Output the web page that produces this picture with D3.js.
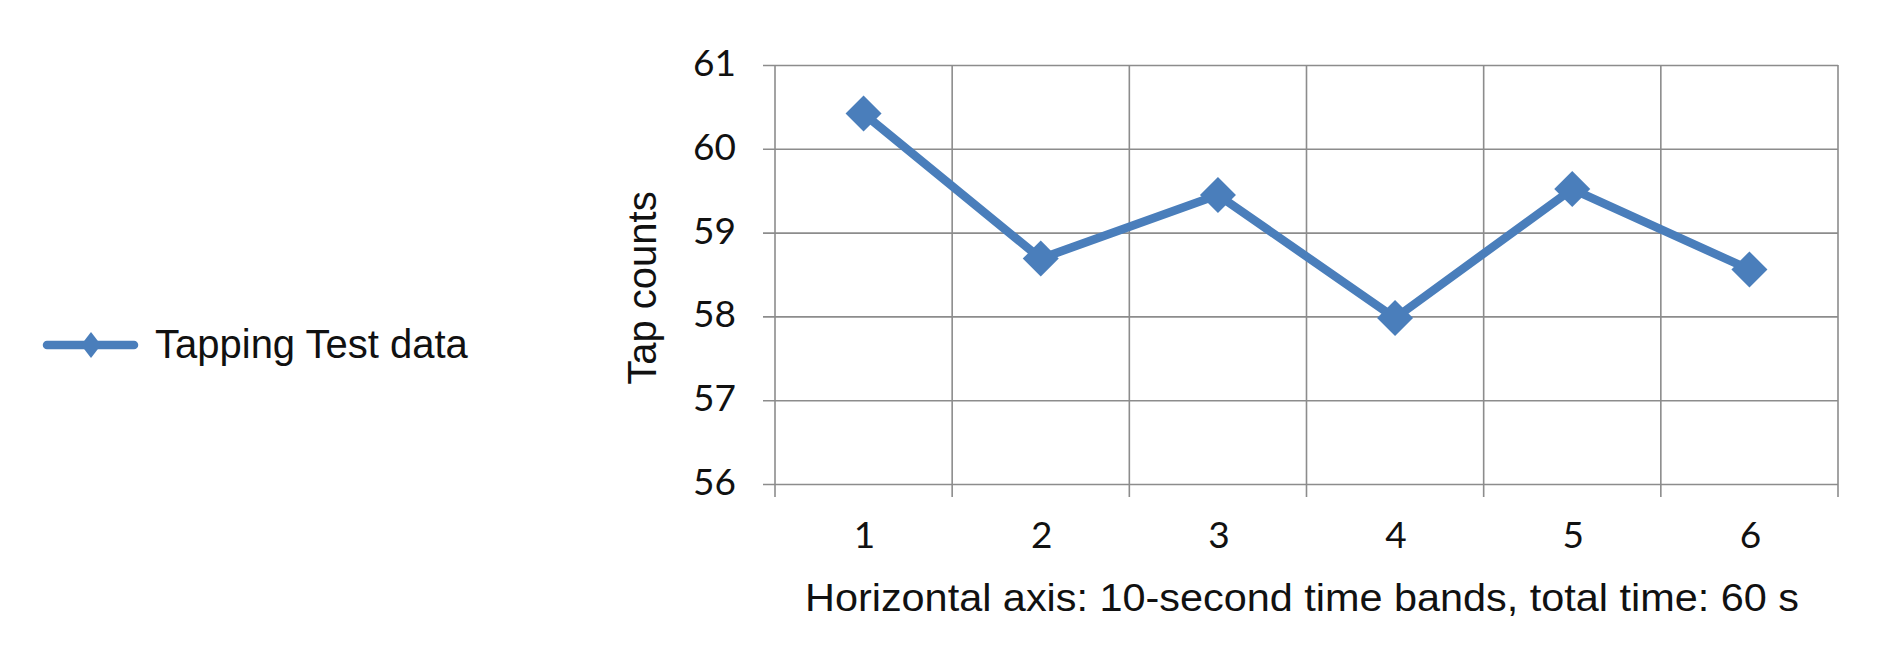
<!DOCTYPE html>
<html>
<head>
<meta charset="utf-8">
<script src="https://cdn.jsdelivr.net/npm/d3@7/dist/d3.min.js"></script>
<style>
  html, body { margin: 0; padding: 0; background: #ffffff; }
  svg { display: block; }
</style>
</head>
<body>
<svg id="chart" width="1891" height="656"></svg>
<script>
// ---- data ----
const categories = ["1", "2", "3", "4", "5", "6"];
const tapCounts = [60.42, 58.69, 59.45, 57.98, 59.52, 58.56];
const yTicks = [56, 57, 58, 59, 60, 61];
const seriesName = "Tapping Test data";
const yTitle = "Tap counts";
const xTitle = "Horizontal axis: 10-second time bands, total time: 60 s";

// ---- layout ----
const svg = d3.select("#chart");
const plotL = 775, plotR = 1838, plotT = 65, plotB = 484;
const blue = "#4a7ebb";
const gridColor = "#8c8c8c";

const x = d3.scaleBand().domain(categories).range([plotL, plotR]).paddingInner(0).paddingOuter(0);
const y = d3.scaleLinear().domain([56, 61]).range([plotB, plotT]);

// horizontal gridlines + outward ticks (via axis)
const gy = svg.append("g").attr("transform", `translate(${plotL},0)`)
  .call(d3.axisLeft(y).tickValues(yTicks).tickSizeInner(-(plotR - plotL)).tickSizeOuter(0).tickFormat(""));
gy.select(".domain").remove();
gy.selectAll(".tick line").attr("x1", -12).attr("stroke", gridColor).attr("stroke-width", 1.6);

// vertical gridlines at band boundaries
const bounds = categories.map(c => x(c)).concat([x.range()[1]]);
svg.append("g").selectAll("line").data(bounds).join("line")
  .attr("x1", d => d).attr("x2", d => d)
  .attr("y1", plotT).attr("y2", plotB + 13)
  .attr("stroke", gridColor).attr("stroke-width", 1.6);

// y tick labels
svg.append("g").selectAll("text").data(yTicks).join("text")
  .attr("x", plotL - 39).attr("y", d => y(d) + 11)
  .attr("text-anchor", "end")
  .attr("font-family", "Lato, 'Open Sans', sans-serif")
  .attr("font-size", 37).attr("fill", "#111")
  .text(d => d);

// x tick labels
svg.append("g").selectAll("text").data(categories).join("text")
  .attr("x", d => x(d) + x.bandwidth() / 2 + 1).attr("y", 548)
  .attr("text-anchor", "middle")
  .attr("font-family", "Lato, 'Open Sans', sans-serif")
  .attr("font-size", 37).attr("fill", "#111")
  .text(d => d);

// axis titles
svg.append("text")
  .attr("transform", `translate(656,288) rotate(-90)`)
  .attr("text-anchor", "middle")
  .attr("font-family", "'Liberation Sans', Arial, sans-serif")
  .attr("font-size", 40).attr("fill", "#111")
  .text(yTitle);

svg.append("text")
  .attr("x", 805).attr("y", 611)
  .attr("font-family", "'Liberation Sans', Arial, sans-serif")
  .attr("font-size", 38).attr("fill", "#111")
  .attr("textLength", 994).attr("lengthAdjust", "spacingAndGlyphs")
  .text(xTitle);

// series line
const cx = d => x(d) + x.bandwidth() / 2;
const pts = categories.map((c, i) => [cx(c), y(tapCounts[i])]);
svg.append("path")
  .attr("d", d3.line()(pts))
  .attr("fill", "none").attr("stroke", blue)
  .attr("stroke-width", 8.5).attr("stroke-linejoin", "miter");

// diamond markers
const diamond = (hx, hy) => `M0,${-hy}L${hx},0L0,${hy}L${-hx},0Z`;
svg.append("g").selectAll("path").data(pts).join("path")
  .attr("transform", d => `translate(${d[0]},${d[1]})`)
  .attr("d", diamond(18, 18))
  .attr("fill", blue);

// legend
const lg = svg.append("g");
lg.append("line").attr("x1", 47).attr("x2", 134).attr("y1", 345).attr("y2", 345)
  .attr("stroke", blue).attr("stroke-width", 8.5).attr("stroke-linecap", "round");
lg.append("path").attr("transform", "translate(91,345)").attr("d", diamond(10, 13)).attr("fill", blue);
lg.append("text").attr("x", 155).attr("y", 358)
  .attr("font-family", "'Liberation Sans', Arial, sans-serif")
  .attr("font-size", 40).attr("fill", "#111")
  .text(seriesName);
</script>
</body>
</html>
